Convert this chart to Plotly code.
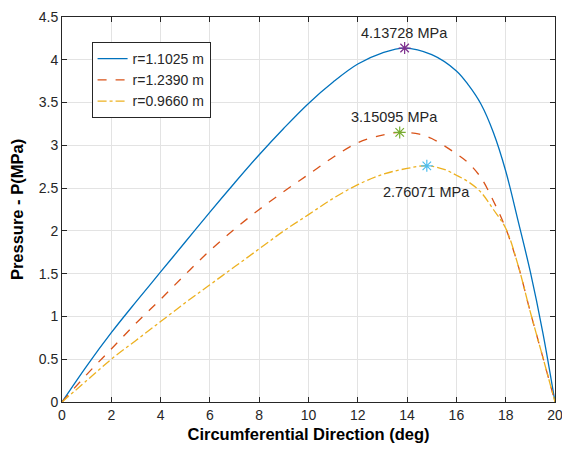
import plotly.graph_objects as go

# pressure curves (deg, MPa)
x_a = [0, 1, 2, 3, 4, 5, 6, 7, 8, 9, 10, 11, 12, 13, 13.9, 15, 16, 16.5, 17, 17.5, 18, 18.5, 19, 19.5, 20]
p_a = [0, 0.42, 0.81, 1.17, 1.52, 1.87, 2.22, 2.56, 2.89, 3.2, 3.49, 3.74, 3.95, 4.08, 4.137,
       4.06, 3.87, 3.7, 3.48, 3.15, 2.7, 2.12, 1.52, 0.82, 0]

x_b = [0, 1, 2, 3, 4, 5, 6, 7, 8, 9, 10, 11, 12, 13, 13.7, 14.5, 15, 16, 16.5, 17, 17.5, 18, 18.5, 19, 19.5, 20]
p_b = [0, 0.32, 0.62, 0.92, 1.2, 1.49, 1.77, 2.02, 2.25, 2.46, 2.66, 2.86, 3.03, 3.12, 3.151,
       3.13, 3.08, 2.9, 2.79, 2.62, 2.35, 2.03, 1.6, 1.05, 0.53, 0]

x_c = [0, 1, 2, 3, 4, 5, 6, 7, 8, 9, 10, 11, 12, 13, 14, 14.8, 15.5, 16, 16.5, 17, 17.5, 18, 18.5, 19, 19.5, 20]
p_c = [0, 0.25, 0.5, 0.72, 0.94, 1.16, 1.37, 1.58, 1.79, 2.0, 2.19, 2.38, 2.54, 2.66, 2.73, 2.761,
       2.72, 2.65, 2.57, 2.45, 2.25, 2.03, 1.6, 1.05, 0.53, 0]

names = ['r=1.1025 m', 'r=1.2390 m', 'r=0.9660 m']
line_colors = ['#0072BD', '#D95319', '#EDB120']
dashes = ['solid', 'dash', 'dashdot']

# peak markers and their labels
peak_x = [13.9, 13.7, 14.8]
peak_p = [4.13728, 3.15095, 2.76071]
peak_colors = ['#7E2F8E', '#77AC30', '#4DBEEE']
label_pos = [(13.9, 4.31), (13.5, 3.33), (14.8, 2.45)]

fig = go.Figure()
for xs, ps, nm, col, dsh in zip([x_a, x_b, x_c], [p_a, p_b, p_c], names, line_colors, dashes):
    fig.add_trace(go.Scatter(x=xs, y=ps, mode='lines', name=nm,
                             line=dict(color=col, width=1.3, dash=dsh, shape='spline', smoothing=1.0)))

for px_, pp, col, (lx, ly) in zip(peak_x, peak_p, peak_colors, label_pos):
    fig.add_trace(go.Scatter(x=[px_], y=[pp], mode='markers', showlegend=False,
                             marker=dict(symbol='asterisk-open', size=10, color=col,
                                         line=dict(color=col, width=1.2))))
    fig.add_annotation(x=lx, y=ly, text=f'{pp:.5f} MPa', showarrow=False,
                       font=dict(size=14.5, color='#262626'))

axis_style = dict(showline=True, linecolor='#262626', linewidth=1, mirror='ticks',
                  ticks='inside', ticklen=5, tickcolor='#262626', automargin=False,
                  ticklabeloverflow='allow',
                  showgrid=True, gridcolor='#e3e3e3', gridwidth=1, zeroline=False,
                  tickfont=dict(size=14, color='#262626'))

fig.update_xaxes(range=[0, 20], dtick=2, **axis_style,
                 title=dict(text='<b>Circumferential Direction (deg)</b>',
                            font=dict(size=16.5, color='black'), standoff=6))
fig.update_yaxes(range=[0, 4.5], dtick=0.5, **axis_style,
                 title=dict(text='<b>Pressure - P(MPa)</b>',
                            font=dict(size=16.5, color='black'), standoff=10))

# page body adds an 8px margin, so the figure is sized to fit inside it
fig.update_layout(
    width=562, height=438,
    margin=dict(l=54, r=15, t=9, b=44),
    paper_bgcolor='white', plot_bgcolor='white',
    font=dict(family='Liberation Sans, Arial, sans-serif'),
    legend=dict(x=0.06, y=0.935, xanchor='left', yanchor='top',
                bgcolor='white', bordercolor='#262626', borderwidth=1,
                font=dict(size=14, color='#262626'), tracegroupgap=0),
)

fig.write_html('out.html')
